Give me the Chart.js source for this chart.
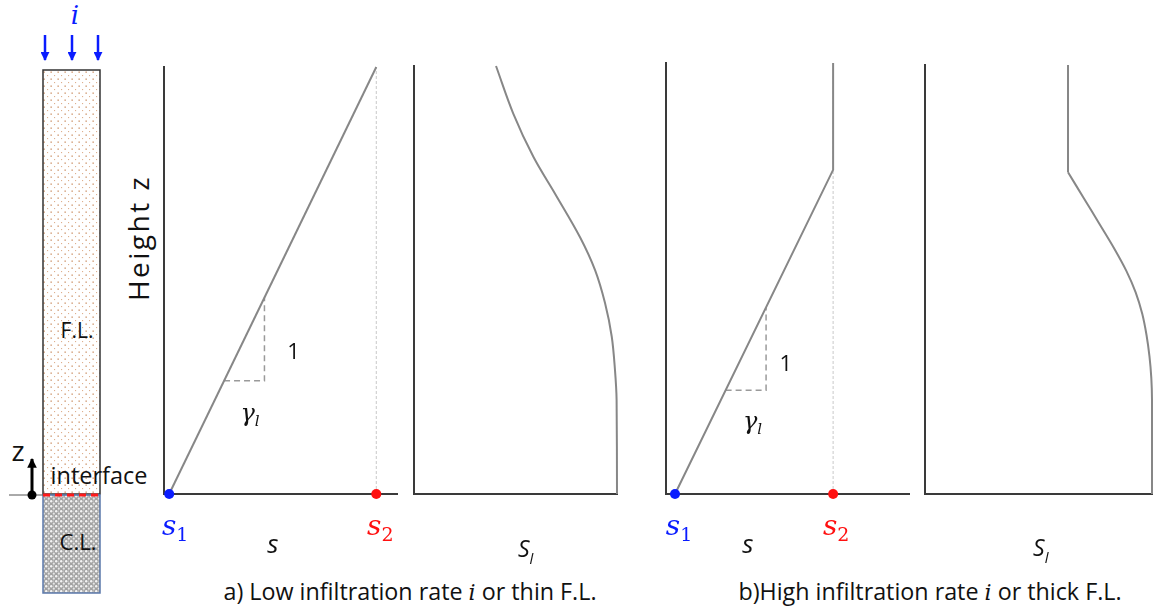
<!DOCTYPE html>
<html lang="en">
<head>
<meta charset="UTF-8">
<title>Infiltration profiles</title>
<script src="https://cdn.jsdelivr.net/npm/chart.js@4.4.1/dist/chart.umd.min.js"></script>
<style>
  html, body { margin: 0; padding: 0; background: #fff; overflow: hidden; }
  #page { position: relative; width: 1158px; height: 610px; font-family: "Open Sans", sans-serif; color: #111; }
  .panel { position: absolute; }
  .txt { position: absolute; white-space: nowrap; transform: translate(-50%, -50%); line-height: 1; }
  .math { font-family: "DejaVu Serif", serif; font-style: italic; }
</style>
</head>
<body>
<div id="page">
  <!-- soil column: fine layer over coarse layer -->
  <svg width="160" height="610" style="position:absolute;left:0;top:0">
    <defs>
      <pattern id="fine" width="7" height="7" patternUnits="userSpaceOnUse">
        <rect width="7" height="7" fill="#fff"/>
        <rect x="1.5" y="1.5" width="1.3" height="1.3" fill="#c98a5e"/>
        <rect x="5" y="5" width="1.1" height="1.1" fill="#deb08e"/>
      </pattern>
      <pattern id="coarse" width="5" height="5" patternUnits="userSpaceOnUse">
        <rect width="5" height="5" fill="#a2a2a2"/>
        <circle cx="1.2" cy="1.3" r="1.2" fill="#f4f4f4"/>
        <circle cx="3.8" cy="3.7" r="1.1" fill="#e6e6e6"/>
        <circle cx="3.6" cy="1.0" r="0.6" fill="#d6d6d6"/>
      </pattern>
      <marker id="headBlue" viewBox="0 0 10 10" refX="9" refY="5" markerWidth="3.8" markerHeight="3.6" orient="auto">
        <path d="M0,0 L10,5 L0,10 z" fill="#0a1cff"/>
      </marker>
      <marker id="headBlack" viewBox="0 0 10 10" refX="9" refY="5" markerWidth="3.4" markerHeight="3.2" orient="auto">
        <path d="M0,0 L10,5 L0,10 z" fill="#000"/>
      </marker>
    </defs>
    <rect x="43" y="70" width="57" height="424" fill="url(#fine)" stroke="#333" stroke-width="1.5"/>
    <rect x="43" y="495" width="57" height="98" fill="url(#coarse)" stroke="#5b78aa" stroke-width="1.5"/>
    <line x1="9" y1="495" x2="43" y2="495" stroke="#555" stroke-width="1"/>
    <line x1="43" y1="495" x2="101" y2="495" stroke="#ff1a1a" stroke-width="3" stroke-dasharray="7 5"/>
    <line x1="32" y1="495" x2="32" y2="459" stroke="#000" stroke-width="3" marker-end="url(#headBlack)"/>
    <circle cx="32" cy="495" r="4.5" fill="#000"/>
    <line x1="45" y1="35" x2="45" y2="60" stroke="#0a1cff" stroke-width="2.5" marker-end="url(#headBlue)"/>
    <line x1="72" y1="35" x2="72" y2="60" stroke="#0a1cff" stroke-width="2.5" marker-end="url(#headBlue)"/>
    <line x1="98" y1="35" x2="98" y2="60" stroke="#0a1cff" stroke-width="2.5" marker-end="url(#headBlue)"/>
  </svg>
  <div class="txt math" style="left:75px;top:15px;font-size:26px;color:#0a1cff">i</div>
  <div class="txt" style="left:77px;top:330px;font-size:21px">F.L.</div>
  <div class="txt" style="left:78px;top:541px;font-size:22px">C.L.</div>
  <div class="txt" style="left:18px;top:450px;font-size:28px">z</div>
  <div class="txt" style="left:99px;top:476px;font-size:23.5px">interface</div>
  <div class="txt" style="left:138px;top:238px;font-size:28px;letter-spacing:2.5px;transform:translate(-50%,-50%) rotate(-90deg)">Height z</div>

  <div class="panel" id="lowS"><canvas></canvas></div>
  <div class="panel" id="lowSl"><canvas></canvas></div>
  <div class="panel" id="highS"><canvas></canvas></div>
  <div class="panel" id="highSl"><canvas></canvas></div>

  <div class="txt" style="left:410px;top:592px;font-size:23.3px">a) Low infiltration rate <span class="math" style="font-size:22px">i</span> or thin F.L.</div>
  <div class="txt" style="left:930px;top:592px;font-size:23.3px">b)High infiltration rate <span class="math" style="font-size:22px">i</span> or thick F.L.</div>
</div>

<script>
// a) low infiltration: s rises linearly from s1 (z=0) to s2 (z=1)
const lowProfileS = [0, 1];
const lowProfileZ = [0, 1];
const lowTriangleS = [0.265, 0.46, 0.46];
const lowTriangleZ = [0.265, 0.265, 0.46];
// S_l profile, read top to bottom
const lowSl  = [0.404, 0.489, 0.588, 0.697, 0.818, 0.892, 0.941, 0.974, 0.990, 0.998, 1.0];
const lowSlZ = [1.0, 0.889, 0.788, 0.700, 0.600, 0.523, 0.446, 0.368, 0.290, 0.220, 0.0];

// b) high infiltration: s reaches s2 below the top and stays there
const highProfileS = [0, 1, 1];
const highProfileZ = [0, 0.752, 1];
const highTriangleS = [0.32, 0.576, 0.576];
const highTriangleZ = [0.241, 0.241, 0.433];
const highSlTopS = [0.63, 0.63];
const highSlTopZ = [1.0, 0.75];
const highSl  = [0.630, 0.699, 0.768, 0.836, 0.887, 0.928, 0.957, 0.976, 0.989, 0.997, 1.0, 1.0];
const highSlZ = [0.75, 0.69, 0.63, 0.57, 0.52, 0.47, 0.42, 0.37, 0.32, 0.27, 0.22, 0.0];

const s1 = 0, s2 = 1;

const BLUE = '#0a1cff', RED = '#ff1010', AXIS = '#3a3a3a', CURVE = '#878787';
const SERIF = '"DejaVu Serif", serif';
const SANS = '"Open Sans", sans-serif';

function pts(xs, ys) { return xs.map((v, i) => ({x: v, y: ys[i]})); }

// text drawn in data coordinates, made of several styled parts (for subscripts)
const notesPlugin = {
  id: 'notes',
  afterDatasetsDraw(chart, args, opts) {
    const {ctx, scales: {x, y}} = chart;
    (opts.items || []).forEach(item => {
      ctx.save();
      ctx.textBaseline = 'alphabetic';
      let w = 0;
      item.parts.forEach(p => { ctx.font = p.font; w += ctx.measureText(p.t).width; });
      let cx = x.getPixelForValue(item.x) + (item.dx || 0) - w / 2;
      const base = y.getPixelForValue(item.y);
      item.parts.forEach(p => {
        ctx.font = p.font;
        ctx.fillStyle = p.color || '#111';
        ctx.fillText(p.t, cx, base + (p.dy || 0));
        cx += ctx.measureText(p.t).width;
      });
      ctx.restore();
    });
  }
};

function sub(main, idx, color) {
  return [
    {t: main, font: 'italic 28px ' + SERIF, color: color},
    {t: idx, font: '19px ' + SERIF, color: color, dy: 6}
  ];
}

function line(data, color, width, dash) {
  return {data, showLine: true, borderColor: color, borderWidth: width, borderDash: dash || [],
          pointRadius: 0, tension: 0, clip: false};
}
function curve(data) {
  return {data, showLine: true, borderColor: CURVE, borderWidth: 2, pointRadius: 0,
          tension: 0.35, clip: false};
}
function dots(data, color) {
  return {data, showLine: false, pointRadius: 5, pointBackgroundColor: color,
          pointBorderWidth: 0, clip: false};
}

// area = plotting box in page pixels; the canvas gets room around it for labels
function panel(id, area, xMin, xMax, datasets, notes) {
  const pad = {left: 24, right: 24, top: 10};
  const bottomEdge = 575;
  const wrap = document.getElementById(id);
  const canvas = wrap.querySelector('canvas');
  const w = area.right - area.left + pad.left + pad.right;
  const h = bottomEdge - area.top + pad.top;
  wrap.style.left = (area.left - pad.left) + 'px';
  wrap.style.top = (area.top - pad.top) + 'px';
  canvas.width = w; canvas.height = h;
  const axis = (min, max) => ({
    type: 'linear', min, max,
    grid: {display: false, drawTicks: false},
    ticks: {display: false},
    border: {display: true, color: AXIS, width: 2}
  });
  return new Chart(canvas, {
    type: 'scatter',
    data: {datasets},
    plugins: [notesPlugin],
    options: {
      responsive: false,
      animation: false,
      layout: {padding: {left: pad.left, right: pad.right, top: pad.top, bottom: bottomEdge - area.bottom}},
      scales: {x: axis(xMin, xMax), y: axis(0, 1)},
      plugins: {legend: {display: false}, tooltip: {enabled: false}, notes: {items: notes}}
    }
  });
}

const labelTri = [{t: '1', font: '22px ' + SANS, color: '#111'}];
const labelGamma = [
  {t: 'γ', font: 'italic 24px ' + SERIF, color: '#111'},
  {t: 'l', font: 'italic 15px ' + SERIF, color: '#111', dy: 5}
];
const labelS = [{t: 's', font: 'italic 26px ' + SANS, color: '#111'}];
const labelSl = [
  {t: 'S', font: 'italic 23px ' + SANS, color: '#111'},
  {t: 'l', font: 'italic 15px ' + SANS, color: '#111', dy: 7}
];

panel('lowS', {left: 164, right: 397, top: 67, bottom: 494}, -0.025, 1.1, [
  dots([{x: s1, y: 0}], BLUE),
  dots([{x: s2, y: 0}], RED),
  line(pts(lowProfileS, lowProfileZ), CURVE, 2),
  line(pts(lowTriangleS, lowTriangleZ), '#9a9a9a', 1.5, [6, 4]),
  line([{x: s2, y: 0}, {x: s2, y: 1}], '#c9c9c9', 1, [3, 2])
], [
  {x: s1, y: -0.095, dx: 6, parts: sub('s', '1', BLUE)},
  {x: s2, y: -0.095, dx: 4, parts: sub('s', '2', RED)},
  {x: 0.5, y: -0.138, parts: labelS},
  {x: 0.6, y: 0.315, parts: labelTri},
  {x: 0.39, y: 0.17, parts: labelGamma}
]);

panel('lowSl', {left: 414, right: 617, top: 66, bottom: 494}, 0, 1, [
  curve(pts(lowSl, lowSlZ))
], [
  {x: 0.55, y: -0.147, parts: labelSl}
]);

panel('highS', {left: 666, right: 909, top: 63, bottom: 494}, -0.057, 1.48, [
  dots([{x: s1, y: 0}], BLUE),
  dots([{x: s2, y: 0}], RED),
  line(pts(highProfileS, highProfileZ), CURVE, 2),
  line(pts(highTriangleS, highTriangleZ), '#9a9a9a', 1.5, [6, 4]),
  line([{x: s2, y: 0}, {x: s2, y: 0.97}], '#c9c9c9', 1, [3, 2])
], [
  {x: s1, y: -0.095, dx: 4, parts: sub('s', '1', BLUE)},
  {x: s2, y: -0.095, dx: 3, parts: sub('s', '2', RED)},
  {x: 0.46, y: -0.136, parts: labelS},
  {x: 0.70, y: 0.285, parts: labelTri},
  {x: 0.49, y: 0.15, parts: labelGamma}
]);

panel('highSl', {left: 925, right: 1152, top: 65, bottom: 494}, 0, 1, [
  line(pts(highSlTopS, highSlTopZ), CURVE, 2),
  curve(pts(highSl, highSlZ))
], [
  {x: 0.51, y: -0.145, parts: labelSl}
]);
</script>
</body>
</html>
